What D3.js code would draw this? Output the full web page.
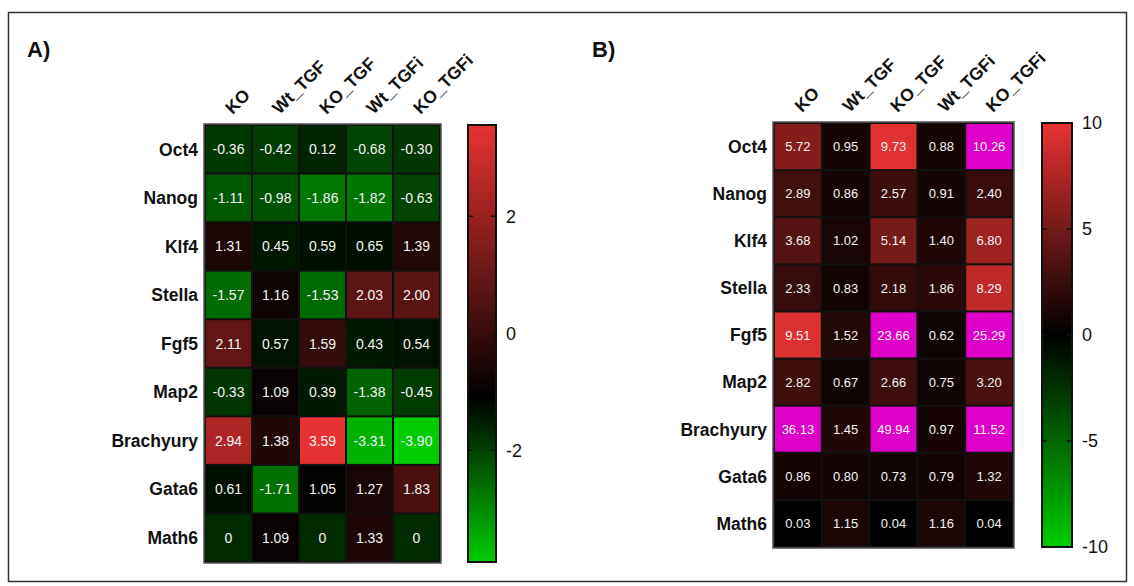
<!DOCTYPE html>
<html>
<head>
<meta charset="utf-8">
<script src="https://cdn.jsdelivr.net/npm/d3@7"></script>
<style>
  html, body { margin: 0; padding: 0; background: #fff; }
  svg { display: block; font-family: "Liberation Sans", Arial, sans-serif; }
</style>
</head>
<body>
<svg id="chart" width="1134" height="586"></svg>
<script>
// ---------------- data ----------------
const genes = ["Oct4", "Nanog", "Klf4", "Stella", "Fgf5", "Map2", "Brachyury", "Gata6", "Math6"];
const conditions = ["KO", "Wt_TGF", "KO_TGF", "Wt_TGFi", "KO_TGFi"];

// Panel A values (rows = genes, cols = conditions)
const valuesA = [
  [-0.36, -0.42, 0.12, -0.68, -0.30],
  [-1.11, -0.98, -1.86, -1.82, -0.63],
  [1.31, 0.45, 0.59, 0.65, 1.39],
  [-1.57, 1.16, -1.53, 2.03, 2.00],
  [2.11, 0.57, 1.59, 0.43, 0.54],
  [-0.33, 1.09, 0.39, -1.38, -0.45],
  [2.94, 1.38, 3.59, -3.31, -3.90],
  [0.61, -1.71, 1.05, 1.27, 1.83],
  [0, 1.09, 0, 1.33, 0]
];
const labelsA = [
  ["-0.36", "-0.42", "0.12", "-0.68", "-0.30"],
  ["-1.11", "-0.98", "-1.86", "-1.82", "-0.63"],
  ["1.31", "0.45", "0.59", "0.65", "1.39"],
  ["-1.57", "1.16", "-1.53", "2.03", "2.00"],
  ["2.11", "0.57", "1.59", "0.43", "0.54"],
  ["-0.33", "1.09", "0.39", "-1.38", "-0.45"],
  ["2.94", "1.38", "3.59", "-3.31", "-3.90"],
  ["0.61", "-1.71", "1.05", "1.27", "1.83"],
  ["0", "1.09", "0", "1.33", "0"]
];
// Panel A colour scale as seen in the cells (green min, black centre, red max)
const colorDomainA = [-3.9, 1.0, 3.59];
// Panel A colour bar: axis range and gradient stop positions
const barRangeA = [-3.91, 3.56];
const barStopsA = [-3.91, -1.1, 3.56];
const barTicksA = [-2, 0, 2];

// Panel B values
const valuesB = [
  [5.72, 0.95, 9.73, 0.88, 10.26],
  [2.89, 0.86, 2.57, 0.91, 2.40],
  [3.68, 1.02, 5.14, 1.40, 6.80],
  [2.33, 0.83, 2.18, 1.86, 8.29],
  [9.51, 1.52, 23.66, 0.62, 25.29],
  [2.82, 0.67, 2.66, 0.75, 3.20],
  [36.13, 1.45, 49.94, 0.97, 11.52],
  [0.86, 0.80, 0.73, 0.79, 1.32],
  [0.03, 1.15, 0.04, 1.16, 0.04]
];
const colorDomainB = [-10, 0, 10];
const barRangeB = [-10, 10];
const barStopsB = [-10, 0, 10];
const barTicksB = [-10, -5, 0, 5, 10];

const GREEN = "#00cc00", BLACK = "#000000", RED = "#e83232", OVER = "#dc00c8";

// ---------------- drawing ----------------
const svg = d3.select("#chart");

// outer frame
svg.append("rect")
  .attr("x", 8.5).attr("y", 12.5).attr("width", 1118).attr("height", 569)
  .attr("fill", "none").attr("stroke", "#333").attr("stroke-width", 1.5);

function panel(opt) {
  const g = svg.append("g");
  const x = d3.scaleBand().domain(conditions).range([opt.x0, opt.x1]);
  const y = d3.scaleBand().domain(genes).range([opt.y0, opt.y1]);
  const color = d3.scaleLinear().domain(opt.colorDomain).range([GREEN, BLACK, RED])
    .interpolate(d3.interpolateRgb).clamp(true);

  // panel letter
  g.append("text").attr("x", opt.letterX).attr("y", 57)
    .attr("font-size", 22).attr("font-weight", "bold").attr("fill", "#111").text(opt.letter);

  // cells
  const cells = [];
  opt.values.forEach((row, i) => row.forEach((v, j) => cells.push({
    gene: genes[i], cond: conditions[j], v, label: opt.labels ? opt.labels[i][j] : d3.format(".2f")(v)
  })));

  g.append("rect")
    .attr("x", opt.x0 - 1).attr("y", opt.y0 - 1)
    .attr("width", opt.x1 - opt.x0 + 2).attr("height", opt.y1 - opt.y0 + 2)
    .attr("fill", "#111").attr("stroke", "#555").attr("stroke-width", 1.5);

  g.selectAll("rect.cell").data(cells).join("rect")
    .attr("class", "cell")
    .attr("x", d => x(d.cond) + 1)
    .attr("y", d => y(d.gene) + 1)
    .attr("width", x.bandwidth() - 2)
    .attr("height", y.bandwidth() - 2)
    .attr("fill", d => d.v > opt.colorDomain[2] ? OVER : color(d.v));

  g.selectAll("text.val").data(cells).join("text")
    .attr("class", "val")
    .attr("x", d => x(d.cond) + x.bandwidth() / 2)
    .attr("y", d => y(d.gene) + y.bandwidth() / 2)
    .attr("dy", "0.36em")
    .attr("text-anchor", "middle")
    .attr("font-size", opt.valSize)
    .attr("fill", "#f4f4f4")
    .text(d => d.label);

  // row labels
  g.selectAll("text.row").data(genes).join("text")
    .attr("class", "row")
    .attr("x", opt.x0 - 7)
    .attr("y", d => y(d) + y.bandwidth() / 2)
    .attr("dy", "0.36em")
    .attr("text-anchor", "end")
    .attr("font-size", 17.5).attr("font-weight", "bold").attr("fill", "#111")
    .text(d => d);

  // column labels (rotated)
  g.selectAll("text.col").data(conditions).join("text")
    .attr("class", "col")
    .attr("transform", d => `translate(${x(d) + x.bandwidth() / 2 + 4},${opt.y0 - 10}) rotate(-45)`)
    .attr("text-anchor", "start")
    .attr("font-size", 17.5).attr("font-weight", "bold").attr("fill", "#111")
    .text(d => d);

  // colour bar
  const by = d3.scaleLinear().domain(opt.barRange).range([opt.y1, opt.y0]);
  const gid = "grad" + opt.letter.replace(")", "");
  const grad = svg.append("defs").append("linearGradient").attr("id", gid)
    .attr("x1", 0).attr("y1", 1).attr("x2", 0).attr("y2", 0);
  const span = opt.barRange[1] - opt.barRange[0];
  grad.selectAll("stop").data(opt.barStops).join("stop")
    .attr("offset", d => (d - opt.barRange[0]) / span)
    .attr("stop-color", (d, i) => [GREEN, BLACK, RED][i]);

  g.append("rect")
    .attr("x", opt.bx0).attr("y", opt.y0)
    .attr("width", opt.bx1 - opt.bx0).attr("height", opt.y1 - opt.y0)
    .attr("fill", `url(#${gid})`).attr("stroke", "#111").attr("stroke-width", 2);

  const ticks = g.selectAll("g.tick").data(opt.barTicks).join("g")
    .attr("class", "tick")
    .attr("transform", d => `translate(0,${by(d)})`);
  ticks.append("line").attr("x1", opt.bx0).attr("x2", opt.bx0 + 5).attr("stroke", "#111").attr("stroke-width", 1.5);
  ticks.append("line").attr("x1", opt.bx1 - 5).attr("x2", opt.bx1).attr("stroke", "#111").attr("stroke-width", 1.5);
  ticks.append("text")
    .attr("x", opt.bx1 + 10).attr("dy", "0.36em")
    .attr("font-size", 18).attr("fill", "#111")
    .text(d => d);
}

panel({
  letter: "A)", letterX: 27,
  x0: 205, x1: 440, y0: 125, y1: 562,
  values: valuesA, labels: labelsA, colorDomain: colorDomainA, valSize: 14,
  bx0: 468, bx1: 496, barRange: barRangeA, barStops: barStopsA, barTicks: barTicksA
});
panel({
  letter: "B)", letterX: 592,
  x0: 774, x1: 1013, y0: 123, y1: 547,
  values: valuesB, labels: null, colorDomain: colorDomainB, valSize: 13,
  bx0: 1042, bx1: 1072, barRange: barRangeB, barStops: barStopsB, barTicks: barTicksB
});
</script>
</body>
</html>
